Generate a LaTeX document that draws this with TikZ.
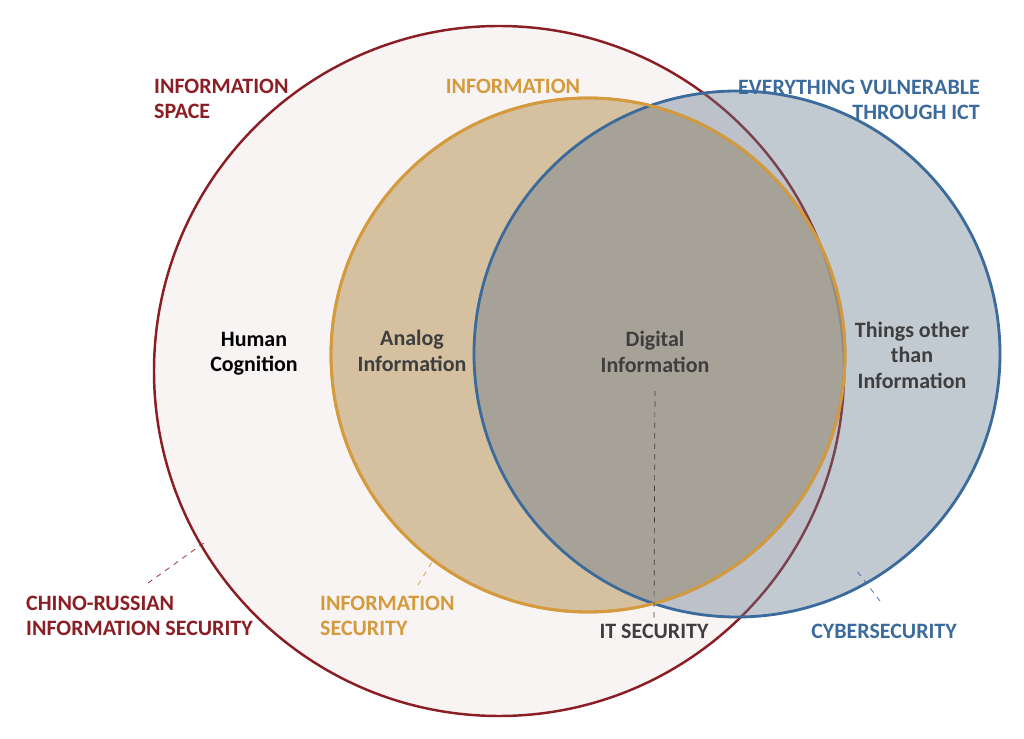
\documentclass[tikz,border=0pt]{standalone}
\usepackage{fontspec}
\setmainfont{Carlito}
\definecolor{infored}{HTML}{8B1E24}
\definecolor{infoorange}{HTML}{D49A3C}
\definecolor{infoblue}{HTML}{3B6A9C}
\definecolor{infotext}{HTML}{3E3E3E}
\begin{document}
\begin{tikzpicture}[
        x=0.02cm, y=-0.02cm,
        label_text/.style={font=\fontsize{12.5}{14.5}\selectfont\bfseries, align=center},
        set_label/.style={label_text, align=left},
        leader/.style={dashed, thin}
    ]
        \useasboundingbox (0,0) rectangle (1024,739);
        % Sets
        \draw[infored, line width=1.4pt, fill=infored!5] (499,371) circle (345);
        \draw[infoorange, line width=1.6pt, fill=infoorange!50!white!88!black, fill opacity=0.8] (588,355) circle (257);
        \draw[infoblue, line width=1.6pt, fill=infoblue!40!gray, fill opacity=0.4] (737,354) circle (263);
        \draw[infoorange, line width=1.6pt] (588,355) circle (257);

        % Labels inside
        \node[label_text] (cognition) at (254,354) {Human\\Cognition};
        \node[label_text, text=infotext] (analog) at (412,351) {Analog\\Information};
        \node[label_text, text=infotext] (digital) at (655,352) {Digital\\Information};
        \node[label_text, text=infotext] (other) at (912,355) {Things other\\than\\Information};

        % Set names
        \node[set_label, text=infored, anchor=west] (space) at (148,99) {INFORMATION\\SPACE};
        \node[label_text, text=infoorange] (info) at (513,86) {INFORMATION};
        \node[label_text, text=infoblue, align=right, anchor=east] (vuln) at (986,100) {EVERYTHING VULNERABLE\\THROUGH ICT};
        \node[set_label, text=infored, anchor=west] (chino) at (20,616) {CHINO-RUSSIAN\\INFORMATION SECURITY};
        \node[set_label, text=infoorange, anchor=west] (infosec) at (314,616) {INFORMATION\\SECURITY};
        \node[label_text, text=infotext] (itsec) at (654,631) {IT SECURITY};
        \node[label_text, text=infoblue] (cyber) at (884,631) {CYBERSECURITY};

        % Leaders
        \coordinate (chino_end) at (208,540);
        \coordinate (infosec_end) at (432,562);
        \coordinate (itsec_end) at (655,386);
        \coordinate (cyber_end) at (857,571);
        \draw[leader, infored] (148,583) -- (chino_end);
        \draw[leader, infoorange] (418,585) -- (infosec_end);
        \draw[leader, infotext] (itsec.north) -- (itsec_end);
        \draw[leader, infoblue] (880,601) -- (cyber_end);
    \end{tikzpicture}
\end{document}
